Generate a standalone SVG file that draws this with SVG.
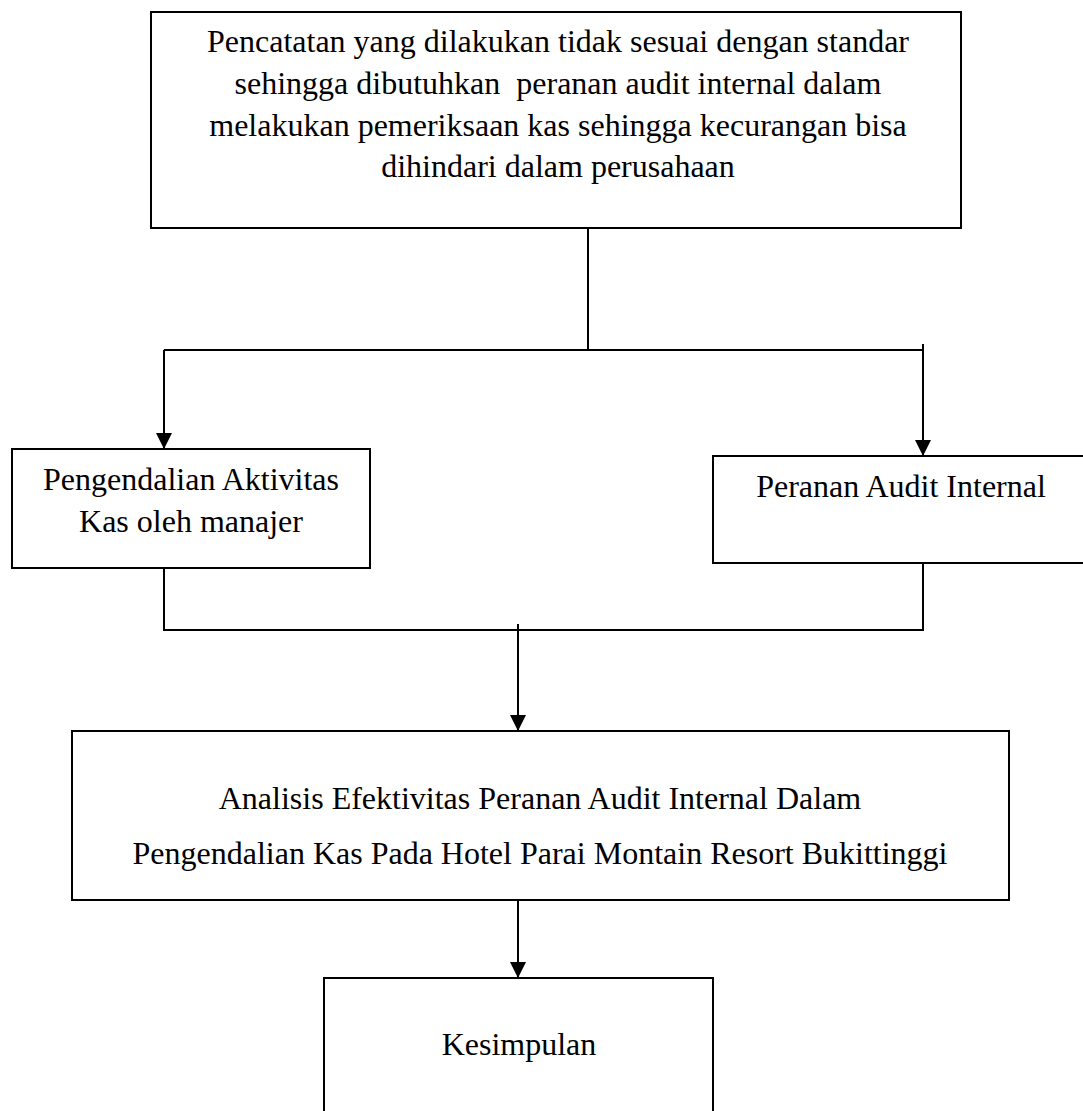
<svg xmlns="http://www.w3.org/2000/svg" width="1083" height="1111" viewBox="0 0 1083 1111">
<style>
.box{fill:#fff;stroke:#000;stroke-width:2}
.ln{fill:none;stroke:#000;stroke-width:2}
text{font-family:"Liberation Serif","Times New Roman",serif;font-size:32px;fill:#000;text-anchor:middle;white-space:pre}
</style>
<defs>
<marker id="arr" markerUnits="userSpaceOnUse" markerWidth="16" markerHeight="16" viewBox="0 0 16 16" refX="16" refY="8" orient="auto">
<path d="M0,0 L16,8 L0,16 Z" fill="#000"/>
</marker>
</defs>
<rect width="1083" height="1111" fill="#fff"/>
<g id="connectors">
<line class="ln" x1="588" y1="228" x2="588" y2="350"/>
<line class="ln" x1="164" y1="350" x2="923" y2="350"/>
<line class="ln" x1="164" y1="350" x2="164" y2="449" marker-end="url(#arr)"/>
<line class="ln" x1="923" y1="344" x2="923" y2="456" marker-end="url(#arr)"/>
<polyline class="ln" points="164,568 164,630 923,630 923,563"/>
<line class="ln" x1="518" y1="624" x2="518" y2="731" marker-end="url(#arr)"/>
<line class="ln" x1="518" y1="900" x2="518" y2="978" marker-end="url(#arr)"/>
</g>
<g id="n-problem">
<rect class="box" x="151" y="12" width="810" height="216"/>
<text x="558" y="52">Pencatatan yang dilakukan tidak sesuai dengan standar</text>
<text x="558" y="94">sehingga dibutuhkan  peranan audit internal dalam</text>
<text x="558" y="136">melakukan pemeriksaan kas sehingga kecurangan bisa</text>
<text x="558" y="177">dihindari dalam perusahaan</text>
</g>
<g id="n-pengendalian">
<rect class="box" x="12" y="449" width="358" height="119"/>
<text x="191" y="490">Pengendalian Aktivitas</text>
<text x="191" y="532">Kas oleh manajer</text>
</g>
<g id="n-peranan">
<rect class="box" x="713" y="456" width="380" height="107"/>
<text x="901" y="497">Peranan Audit Internal</text>
</g>
<g id="n-analisis">
<rect class="box" x="72" y="731" width="937" height="169"/>
<text x="540" y="809">Analisis Efektivitas Peranan Audit Internal Dalam</text>
<text x="540" y="864">Pengendalian Kas Pada Hotel Parai Montain Resort Bukittinggi</text>
</g>
<g id="n-kesimpulan">
<rect class="box" x="324" y="978" width="389" height="150"/>
<text x="519" y="1055">Kesimpulan</text>
</g>
</svg>
